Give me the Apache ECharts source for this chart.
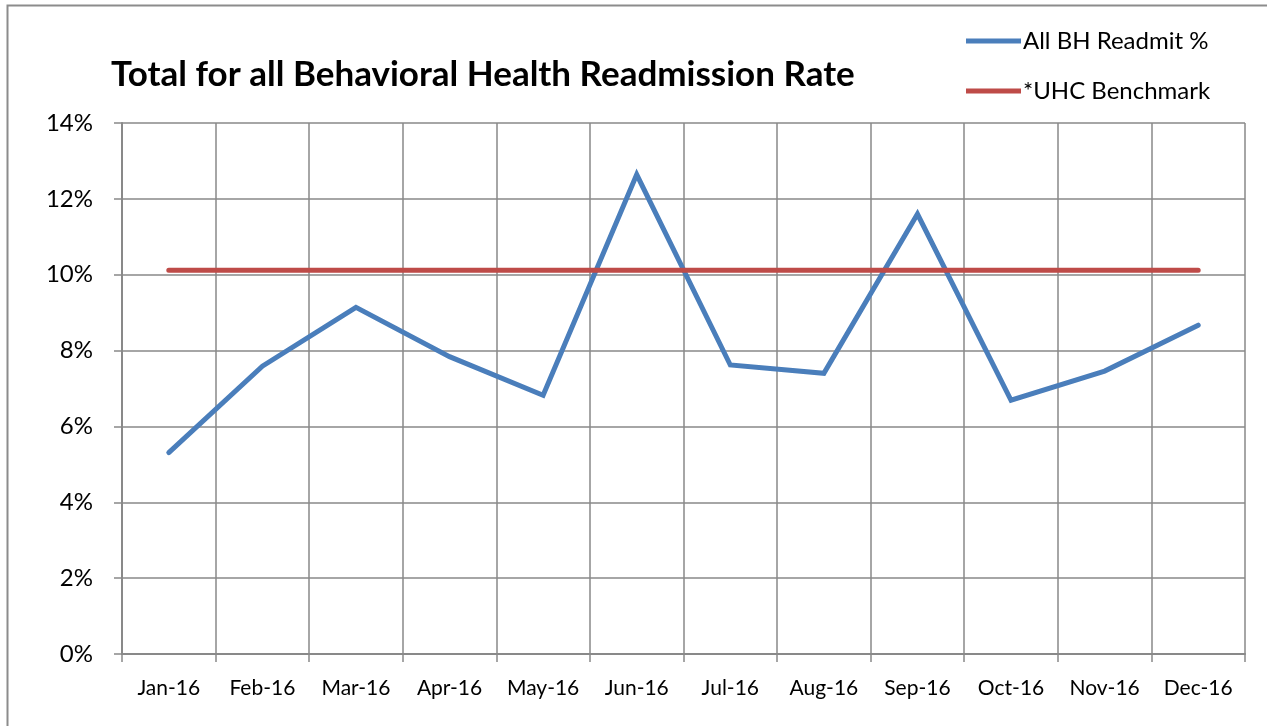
<!DOCTYPE html>
<html>
<head>
<meta charset="utf-8">
<script src="https://cdn.jsdelivr.net/npm/echarts@6/dist/echarts.min.js"></script>
<style>
html, body { margin: 0; padding: 0; background: #fff; }
#idChart { width: 1267px; height: 726px; }
</style>
</head>
<body>
<div id="idChart"></div>
<script>
// months
var categories = ['Jan-16', 'Feb-16', 'Mar-16', 'Apr-16', 'May-16', 'Jun-16',
                  'Jul-16', 'Aug-16', 'Sep-16', 'Oct-16', 'Nov-16', 'Dec-16'];
// All BH Readmit % (percent)
var readmit = [5.31, 7.59, 9.14, 7.84, 6.82, 12.64, 7.62, 7.40, 11.60, 6.69, 7.46, 8.67];
// *UHC Benchmark (percent)
var benchmark = [10.12, 10.12, 10.12, 10.12, 10.12, 10.12, 10.12, 10.12, 10.12, 10.12, 10.12, 10.12];
var yTicks = [0, 2, 4, 6, 8, 10, 12, 14];

var fontFam = 'Lato, "Open Sans", sans-serif';
var gridColor = '#898989';

var myChart = echarts.init(document.getElementById('idChart'));

var Options = {
    backgroundColor: '#fff',
    animation: false,
    color: ['#4a7ebb', '#be4b48'],
    graphic: [{
        type: 'rect',
        shape: { x: 7.5, y: 5.5, width: 1280, height: 740 },
        style: { fill: 'none', stroke: '#8c8c8c', lineWidth: 2 },
        silent: true
    }],
    title: {
        text: 'Total for all Behavioral Health Readmission Rate',
        left: 106,
        top: 52,
        textStyle: { fontFamily: fontFam, fontWeight: 'bold', fontSize: 35, color: '#000' }
    },
    legend: {
        orient: 'vertical',
        left: 961,
        top: 24,
        itemWidth: 55,
        itemHeight: 5,
        itemGap: 26,
        icon: 'rect',
        textStyle: { fontFamily: fontFam, fontSize: 24, color: '#000', padding: [0, 0, 0, -3] },
        data: ['All BH Readmit %', '*UHC Benchmark']
    },
    grid: { left: 122, right: 22, top: 123, bottom: 72, containLabel: false },
    xAxis: {
        type: 'category',
        boundaryGap: true,
        data: categories,
        axisLine: { lineStyle: { color: gridColor, width: 2 } },
        axisTick: { show: true, length: 8, interval: 0, lineStyle: { color: gridColor, width: 1.5 } },
        axisLabel: { interval: 0, margin: 24, fontFamily: fontFam, fontSize: 21, color: '#000' },
        splitLine: { show: true, interval: 0, lineStyle: { color: gridColor, width: 1.5 } }
    },
    yAxis: {
        type: 'value',
        min: 0,
        max: 14,
        interval: 2,
        axisLine: { show: true, lineStyle: { color: gridColor, width: 2 } },
        axisTick: { show: true, length: 8, lineStyle: { color: gridColor, width: 1.5 } },
        axisLabel: {
            margin: 29, fontFamily: fontFam, fontSize: 24, color: '#000',
            formatter: function (v) { return yTicks.indexOf(v) >= 0 ? v + '%' : ''; }
        },
        splitLine: { show: true, lineStyle: { color: gridColor, width: 1.5 } }
    },
    series: [{
        name: 'All BH Readmit %',
        type: 'line',
        symbol: 'none',
        lineStyle: { width: 5, cap: 'round', join: 'miter' },
        data: readmit
    }, {
        name: '*UHC Benchmark',
        type: 'line',
        symbol: 'none',
        lineStyle: { width: 5, cap: 'round' },
        data: benchmark
    }]
};

myChart.setOption(Options);
</script>
</body>
</html>
